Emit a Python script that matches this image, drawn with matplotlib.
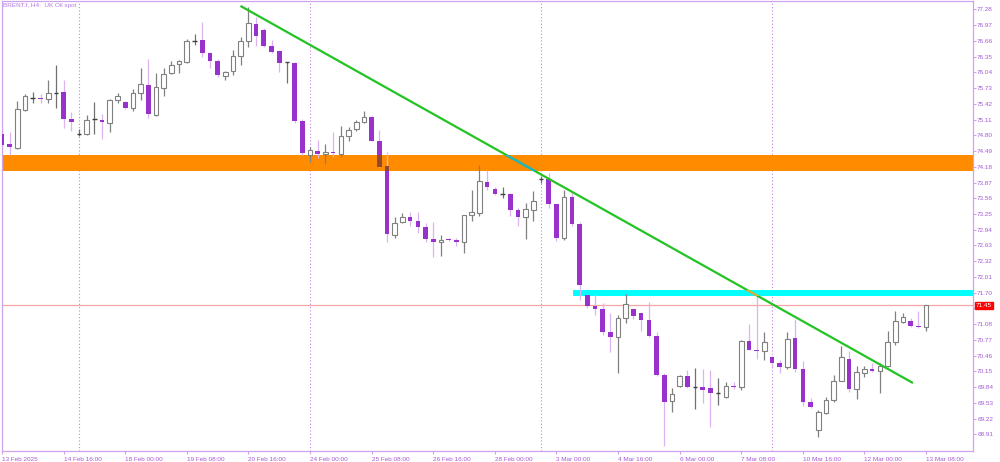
import matplotlib.pyplot as plt
from matplotlib.patches import Rectangle

# H4 candles, BRENT.f
opens = [74.83, 74.62, 74.56, 75.30, 75.53, 75.54, 75.52, 75.64, 75.65, 75.13,
         74.83, 74.83, 75.12, 75.11, 75.05, 75.50, 75.46, 75.33, 75.64, 75.79,
         75.21, 75.73, 76.03, 76.20, 76.25, 76.65, 76.67, 76.42, 76.27, 75.97,
         76.07, 76.37, 76.66, 76.99, 76.88, 76.56, 76.46, 76.24, 76.23, 75.09,
         74.41, 74.50, 74.43, 74.47, 74.43, 74.79, 74.92, 75.07, 75.17, 74.69,
         74.19, 72.84, 73.10, 73.19, 73.12, 72.99, 72.75, 72.70, 72.76, 72.74,
         72.69, 73.23, 73.26, 73.89, 73.74, 73.64, 73.64, 73.32, 73.19, 73.33,
         73.93, 73.93, 73.45, 72.77, 73.59, 73.05, 71.65, 71.44, 71.37, 70.93,
         70.82, 71.21, 71.37, 71.29, 71.16, 70.85, 70.08, 69.57, 69.86, 70.06,
         69.85, 69.85, 69.83, 69.72, 69.64, 69.86, 69.84, 70.75, 70.57, 70.56,
         70.43, 70.31, 70.23, 70.80, 70.19, 69.55, 68.99, 69.32, 69.59, 69.96,
         70.39, 69.80, 70.12, 70.20, 70.16, 70.26, 70.73, 71.12, 71.14, 71.05,
         71.03]
highs = [74.91, 74.87, 75.48, 75.61, 75.65, 75.61, 75.89, 76.19, 75.90, 75.26,
         74.92, 75.20, 75.46, 75.23, 75.52, 75.63, 75.48, 75.71, 76.12, 76.30,
         76.02, 76.12, 76.27, 76.28, 76.69, 76.79, 77.04, 76.45, 76.30, 76.07,
         76.48, 76.74, 77.33, 77.14, 76.91, 76.67, 76.48, 76.25, 76.25, 75.12,
         74.58, 74.71, 74.62, 74.87, 74.98, 74.96, 75.10, 75.27, 75.18, 74.91,
         74.48, 73.20, 73.26, 73.29, 73.28, 73.07, 73.10, 72.84, 72.78, 72.77,
         73.24, 73.72, 74.22, 74.12, 73.78, 73.79, 73.66, 73.36, 73.46, 73.71,
         73.99, 74.06, 73.45, 73.72, 73.68, 73.09, 71.67, 71.67, 71.50, 71.29,
         71.26, 71.67, 71.38, 71.30, 71.52, 70.93, 70.11, 69.82, 70.08, 70.18,
         70.21, 70.19, 70.18, 70.01, 69.93, 69.93, 70.77, 71.08, 71.70, 70.93,
         70.45, 70.37, 70.93, 71.18, 70.35, 69.62, 69.39, 69.65, 70.08, 70.65,
         70.56, 70.26, 70.26, 70.31, 70.31, 70.94, 71.34, 71.29, 71.20, 71.33,
         71.46]
lows = [74.55, 74.41, 74.53, 75.28, 75.43, 75.43, 75.44, 75.33, 74.95, 74.89,
        74.79, 74.81, 74.83, 74.72, 74.87, 75.44, 75.32, 75.27, 75.50, 75.14,
        75.18, 75.58, 76.01, 76.03, 76.22, 76.58, 76.35, 76.12, 75.94, 75.90,
        75.99, 76.19, 76.55, 76.56, 76.55, 76.43, 76.05, 75.83, 75.04, 74.41,
        74.28, 74.35, 74.24, 74.38, 74.38, 74.69, 74.89, 75.05, 74.68, 74.17,
        72.70, 72.77, 73.07, 73.01, 72.87, 72.70, 72.40, 72.42, 72.72, 72.62,
        72.49, 73.12, 73.21, 73.72, 73.62, 73.56, 73.21, 73.01, 72.76, 73.12,
        73.86, 73.36, 72.72, 72.74, 73.01, 71.56, 71.39, 71.26, 70.87, 70.54,
        70.11, 71.11, 71.18, 70.95, 70.82, 70.06, 68.67, 69.34, 69.85, 69.82,
        69.40, 69.53, 69.06, 69.49, 69.63, 69.80, 69.78, 70.57, 70.39, 70.37,
        70.24, 70.11, 70.19, 70.14, 69.47, 69.42, 68.86, 69.31, 69.55, 69.95,
        69.75, 69.60, 70.04, 70.14, 69.72, 70.24, 70.67, 71.10, 71.03, 71.01,
        70.95]
closes = [74.61, 74.58, 75.31, 75.58, 75.53, 75.52, 75.63, 75.64, 75.13, 75.06,
          74.83, 75.11, 75.12, 75.06, 75.49, 75.58, 75.33, 75.63, 75.81, 75.23,
          75.75, 76.01, 76.19, 76.27, 76.65, 76.65, 76.42, 76.27, 75.99, 76.05,
          76.36, 76.65, 77.01, 76.76, 76.56, 76.45, 76.23, 76.24, 75.09, 74.46,
          74.51, 74.43, 74.47, 74.45, 74.79, 74.91, 75.07, 75.16, 74.69, 74.18,
          72.86, 73.07, 73.19, 73.12, 73.00, 72.75, 72.70, 72.74, 72.73, 72.69,
          73.23, 73.28, 73.91, 73.79, 73.64, 73.64, 73.32, 73.19, 73.34, 73.51,
          73.93, 73.45, 72.77, 73.59, 73.05, 71.85, 71.44, 71.37, 70.93, 70.82,
          71.21, 71.47, 71.24, 71.16, 70.85, 70.08, 69.55, 69.70, 70.06, 69.84,
          69.85, 69.78, 69.72, 69.72, 69.86, 69.84, 70.75, 70.58, 70.56, 70.72,
          70.32, 70.23, 70.78, 70.19, 69.55, 69.45, 69.34, 69.59, 69.96, 70.44,
          69.80, 70.14, 70.20, 70.16, 70.26, 70.73, 71.15, 71.22, 71.04, 71.02,
          71.45]

# time axis labels (bar index -> text)
xtick_pos = [0, 8, 16, 24, 32, 40, 48, 56, 64, 72, 80, 88, 96, 104, 112, 120]
xtick_labels = ['13 Feb 2025', '14 Feb 16:00', '18 Feb 00:00', '19 Feb 08:00',
                '20 Feb 16:00', '24 Feb 00:00', '25 Feb 08:00', '26 Feb 16:00',
                '28 Feb 00:00', '3 Mar 00:00', '4 Mar 16:00', '6 Mar 00:00',
                '7 Mar 08:00', '10 Mar 16:00', '12 Mar 00:00', '13 Mar 08:00']
week_starts = [10, 40, 70, 100]

# price scale
ytick_vals = [77.28, 76.97, 76.66, 76.35, 76.04, 75.73, 75.42, 75.11, 74.80,
              74.49, 74.18, 73.87, 73.56, 73.25, 72.94, 72.63, 72.32, 72.01,
              71.70, 71.39, 71.08, 70.77, 70.46, 70.15, 69.84, 69.53, 69.22, 68.91]

# drawn objects
resistance_zone = (74.09, 74.42)
support_zone = (71.64, 71.76)
support_start = 74.2
trend_x = [30.97, 118.3]
trend_y = [77.35, 69.92]
last_price = 71.45

plt.rcParams['font.family'] = ['Liberation Sans', 'DejaVu Sans']

fig = plt.figure(figsize=(10, 4.62), dpi=100)
ax = fig.add_axes([0.002, 11 / 462, 0.971, 450 / 462])
ax.set_xlim(0, 126.1)
ax.set_ylim(68.58, 77.447)

frame_c = '#CFA3EC'
text_c = '#A45AD6'
bear_c = '#9932CC'
bear_wick = '#DDB3F2'
bull_edge = '#808080'

# zones
ax.axhspan(resistance_zone[0], resistance_zone[1], color='#FF8C00', lw=0, zorder=1)
ax.add_patch(Rectangle((support_start, support_zone[0]), 200, support_zone[1] - support_zone[0],
                       color='#00FFFF', lw=0, zorder=1))

# week separators
for w in week_starts:
    ax.axvline(w, color='#C285E6', lw=0.8, ls=(0, (1, 2)), zorder=0.5)

# current price line
ax.axhline(last_price, color='#F5A5A5', lw=0.9, zorder=1.5)

# candles
bw = 0.6
for i in range(len(opens)):
    o, h, l, c = opens[i], highs[i], lows[i], closes[i]
    lo, hi = min(o, c), max(o, c)
    if c < o:
        ax.vlines(i, l, h, color=bear_wick, lw=0.9, zorder=2)
        ax.bar(i, hi - lo, bw, bottom=lo, color=bear_c, lw=0, zorder=3)
        # part of the body inside the orange zone looks brown
        a = max(lo, resistance_zone[0])
        b = min(hi, resistance_zone[1])
        if b > a:
            ax.bar(i, b - a, bw, bottom=a, color='#8E4A32', lw=0, zorder=3.5)
    elif c > o:
        ax.vlines(i, l, h, color=bull_edge, lw=0.9, zorder=2)
        ax.bar(i, hi - lo, bw, bottom=lo, facecolor='white', edgecolor=bull_edge,
               lw=0.8, zorder=3)
    else:
        ax.vlines(i, l, h, color='#707070', lw=0.9, zorder=2)
        ax.hlines(o, i - bw / 2, i + bw / 2, color='#404040', lw=1.0, zorder=3)

# trend line, with the colour shift where it crosses the zones
ax.plot(trend_x, trend_y, color='#22C322', lw=1.6, zorder=4, solid_capstyle='butt')
clip1 = Rectangle((0, resistance_zone[0]), 200, resistance_zone[1] - resistance_zone[0],
                  transform=ax.transData)
l1, = ax.plot(trend_x, trend_y, color='#1FB5C8', lw=1.6, zorder=4.1)
l1.set_clip_path(clip1)
clip2 = Rectangle((support_start, support_zone[0]), 200, support_zone[1] - support_zone[0],
                  transform=ax.transData)
l2, = ax.plot(trend_x, trend_y, color='#E0B040', lw=1.6, zorder=4.1)
l2.set_clip_path(clip2)

# axes look
for s in ax.spines.values():
    s.set_color(frame_c)
    s.set_linewidth(0.9)
ax.yaxis.tick_right()
ax.set_yticks(ytick_vals, ['%.2f' % v for v in ytick_vals])
ax.set_xticks(xtick_pos, xtick_labels, ha='left')
ax.tick_params(axis='y', colors=frame_c, labelcolor=text_c, labelsize=4.6,
               length=2, width=0.8, pad=1)
ax.tick_params(axis='x', colors=frame_c, labelcolor=text_c, labelsize=4.6,
               length=2.5, width=0.8, pad=1.5)

# symbol caption
ax.text(0.0015, 0.989, 'BRENT.f, H4:  UK Oil spot', transform=ax.transAxes,
        ha='left', va='center', fontsize=4.6, color='#B47AE0')

# last price tag
ax.text(1.003, last_price, '%.2f' % last_price, transform=ax.get_yaxis_transform(),
        ha='left', va='center', fontsize=4.6, color='white',
        bbox=dict(facecolor='#FF0000', edgecolor='#FF0000', pad=0.8))

fig.savefig('out.png', dpi=100)
